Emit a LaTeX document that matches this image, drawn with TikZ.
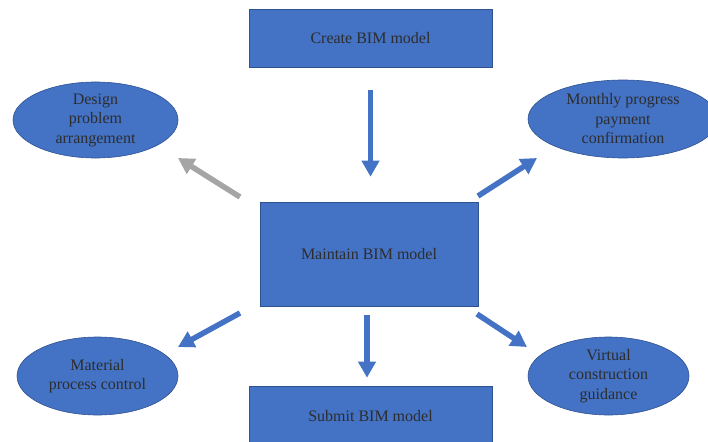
\documentclass[tikz,border=0pt]{standalone}
\usepackage{fontspec}
\setmainfont{Liberation Serif}
\usetikzlibrary{shapes.geometric,arrows.meta}
\definecolor{boxblue}{RGB}{68,114,196}
\definecolor{boxedge}{RGB}{47,82,143}
\definecolor{labelgray}{RGB}{45,45,45}
\definecolor{arrowgray}{RGB}{165,165,165}
\begin{document}
\begin{tikzpicture}[x=1pt,y=-1pt,
  txt/.style={text=labelgray, font=\fontsize{16}{19.5}\selectfont, align=center},
  stage/.style={rectangle, draw=boxedge, line width=0.6pt, fill=boxblue, txt, inner sep=0pt},
  task/.style={ellipse, draw=boxedge, line width=0.6pt, fill=boxblue, inner sep=0pt},
  tasktext/.style={txt, inner sep=0pt},
  flow/.style={draw=boxblue, line width=5.5pt, -{Triangle[width=17pt,length=16pt]}},
  flowgray/.style={flow, draw=arrowgray},
]
\useasboundingbox (0,0) rectangle (708,441);

% process stages
\node[stage, minimum width=243pt, minimum height=58pt] (create) at (370.5,38) {Create BIM model};
\node[stage, minimum width=218pt, minimum height=104pt] (maintain) at (369,254) {Maintain BIM model};
\node[stage, minimum width=243pt, minimum height=60pt] (submit) at (370.5,416) {Submit BIM model};

% uses of the model
\node[task, minimum width=165pt, minimum height=76pt,
      label={[tasktext]center:{Design\\problem\\arrangement}}] (design) at (95.5,120) {};
\node[task, minimum width=190pt, minimum height=78pt,
      label={[tasktext]center:{Monthly progress\\payment\\confirmation}}] (monthly) at (623,119) {};
\node[task, minimum width=161pt, minimum height=78pt,
      label={[tasktext]center:{Material\\process control}}] (material) at (97.5,376) {};
\node[task, minimum width=161pt, minimum height=78pt,
      label={[tasktext]center:{Virtual\\construction\\guidance}}] (virtual) at (608.5,376) {};

% main flow, kept vertical
\draw[flow, shorten <=23pt, shorten >=25pt] (create.south) -- (create.south |- maintain.north);
\draw[flow, shorten <=9pt, shorten >=8pt]
  ([xshift=-2pt]maintain.south) -- ([xshift=-2pt]maintain.south |- submit.north);

% arrow ends around the central stage
\coordinate (dTail) at (240,197);
\coordinate (dTip)  at (178,158);
\coordinate (mTail) at (478,196);
\coordinate (mTip)  at (537,158);
\coordinate (pTail) at (240,313);
\coordinate (pTip)  at (178,347);
\coordinate (vTail) at (477,314);
\coordinate (vTip)  at (527,347);

\draw[flowgray] (dTail) -- (dTip);
\draw[flow] (mTail) -- (mTip);
\draw[flow] (pTail) -- (pTip);
\draw[flow] (vTail) -- (vTip);
\end{tikzpicture}
\end{document}
